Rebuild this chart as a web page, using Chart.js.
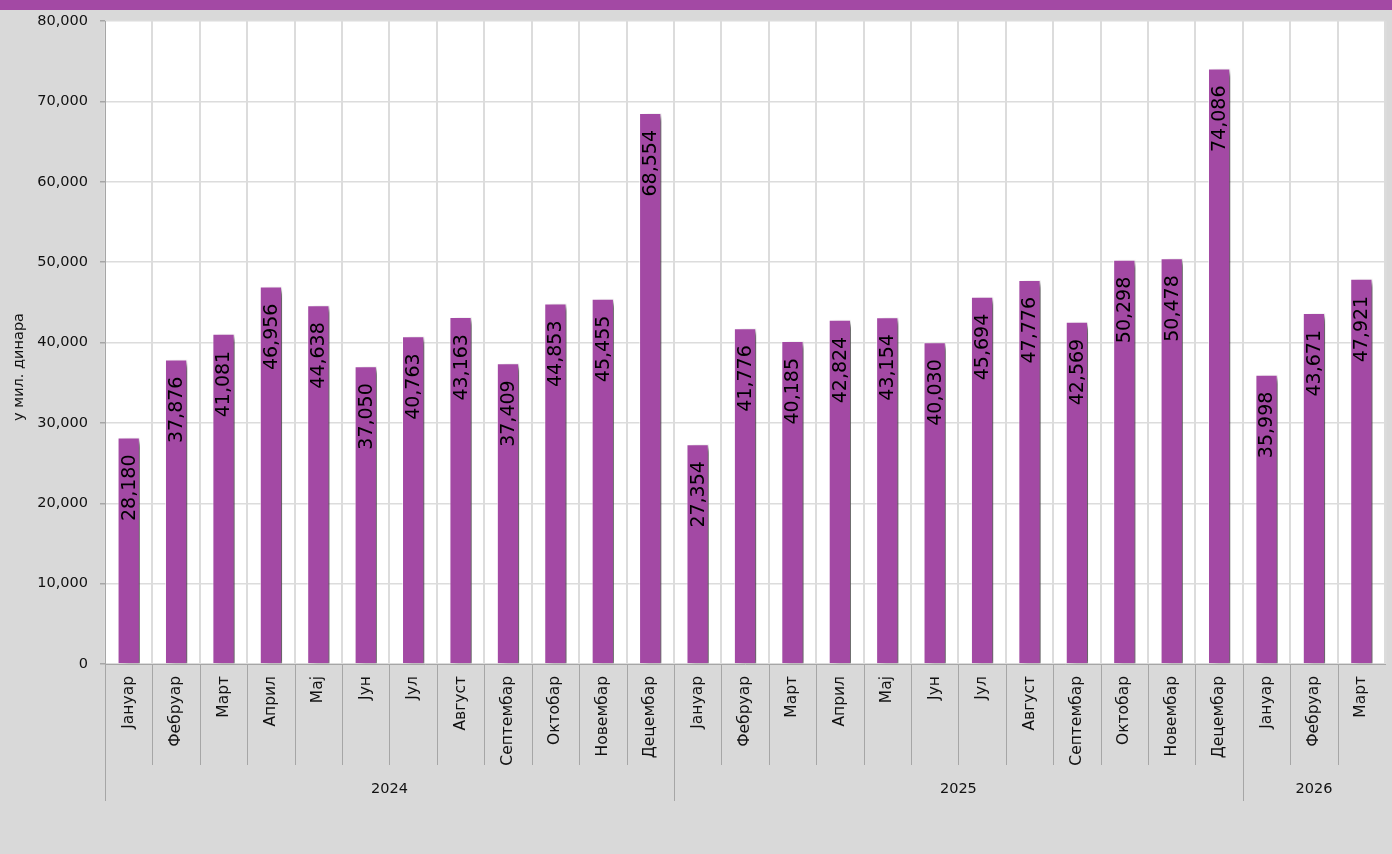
<!DOCTYPE html>
<html>
<head>
<meta charset="utf-8">
<title>Месечни износи</title>
<script src="https://cdn.jsdelivr.net/npm/chart.js@4.4.1/dist/chart.umd.min.js"></script>
<style>
  html, body { margin: 0; padding: 0; background: #d9d9d9; }
  canvas { display: block; }
</style>
</head>
<body>
<canvas id="chart" width="1392" height="854"></canvas>
<script>
// Month names shown under each bar
const months = ['Јануар', 'Фебруар', 'Март', 'Април', 'Мај', 'Јун', 'Јул', 'Август', 'Септембар', 'Октобар', 'Новембар', 'Децембар'];

// Monthly values, in millions of dinars
const values2024 = [28180, 37876, 41081, 46956, 44638, 37050, 40763, 43163, 37409, 44853, 45455, 68554];
const values2025 = [27354, 41776, 40185, 42824, 43154, 40030, 45694, 47776, 42569, 50298, 50478, 74086];
const values2026 = [35998, 43671, 47921];

// Year groups on the second axis row
const years = ['2024', '2025', '2026'];
const yearSeries = [values2024, values2025, values2026];

const yTicks = [0, 10000, 20000, 30000, 40000, 50000, 60000, 70000, 80000];
const yTitle = 'у мил. динара';

const categories = yearSeries.flatMap(s => months.slice(0, s.length));
const values = yearSeries.flat();

const PURPLE = '#a349a4';
const FONT = '"DejaVu Sans", sans-serif';
const fmt = v => v.toLocaleString('en-US');

// Page background, white plot area, the band along the top and the value-axis title
const backdrop = {
  id: 'backdrop',
  beforeDraw(chart) {
    const { ctx, chartArea: a } = chart;
    ctx.save();
    ctx.fillStyle = '#d9d9d9';
    ctx.fillRect(0, 0, chart.width, chart.height);
    ctx.fillStyle = '#ffffff';
    ctx.fillRect(a.left, a.top, a.right - a.left + 1, a.bottom - a.top);
    ctx.fillStyle = PURPLE;
    ctx.fillRect(0, 0, chart.width, 10);

    ctx.translate(19, 367);
    ctx.rotate(-Math.PI / 2);
    ctx.fillStyle = '#111111';
    ctx.font = '14.5px ' + FONT;
    ctx.textAlign = 'center';
    ctx.textBaseline = 'middle';
    ctx.fillText(yTitle, 0, 0);
    ctx.restore();
  }
};

// Drop shadow behind the bars
const barShadow = {
  id: 'barShadow',
  beforeDatasetsDraw(chart) {
    const ctx = chart.ctx;
    ctx.save();
    ctx.shadowColor = 'rgba(0,0,0,0.6)';
    ctx.shadowBlur = 5;
    ctx.shadowOffsetX = 6;
    ctx.shadowOffsetY = 3;
  },
  afterDatasetsDraw(chart) {
    chart.ctx.restore();
  }
};

// Value labels written upward just inside the top of each bar
const barValues = {
  id: 'barValues',
  afterDatasetsDraw(chart) {
    const { ctx } = chart;
    const meta = chart.getDatasetMeta(0);
    const data = chart.data.datasets[0].data;
    ctx.save();
    ctx.fillStyle = '#000000';
    ctx.font = '19px ' + FONT;
    ctx.textAlign = 'right';
    ctx.textBaseline = 'middle';
    meta.data.forEach((bar, i) => {
      ctx.save();
      ctx.translate(bar.x + 1, bar.y + 17);
      ctx.rotate(-Math.PI / 2);
      ctx.fillText(fmt(data[i]), 0, 0);
      ctx.restore();
    });
    ctx.restore();
  }
};

// Second axis row: separators between months and years, plus year labels
const yearAxis = {
  id: 'yearAxis',
  afterDraw(chart) {
    const { ctx } = chart;
    const x = chart.scales.x;
    const base = chart.chartArea.bottom;
    const half = (x.getPixelForValue(1) - x.getPixelForValue(0)) / 2;
    const edge = i => Math.round(x.getPixelForValue(i) - half) + 0.5;
    const starts = [];
    let n = 0;
    yearSeries.forEach(s => { starts.push(n); n += s.length; });
    ctx.save();
    ctx.strokeStyle = '#a6a6a6';
    ctx.lineWidth = 1;
    for (let i = 0; i < n; i++) {
      const isYear = starts.includes(i);
      ctx.beginPath();
      ctx.moveTo(edge(i), base);
      ctx.lineTo(edge(i), base + (isYear ? 137 : 101));
      ctx.stroke();
    }
    ctx.fillStyle = '#111111';
    ctx.font = '14.5px ' + FONT;
    ctx.textAlign = 'center';
    ctx.textBaseline = 'middle';
    years.forEach((y, k) => {
      const a = starts[k];
      const b = a + yearSeries[k].length;
      const cx = (x.getPixelForValue(a) + x.getPixelForValue(b - 1)) / 2;
      ctx.fillText(y, cx, base + 125);
    });
    ctx.restore();
  }
};

new Chart(document.getElementById('chart'), {
  type: 'bar',
  data: {
    labels: categories,
    datasets: [{
      data: values,
      backgroundColor: PURPLE,
      borderColor: 'rgba(255,255,255,0.6)',
      borderWidth: 1,
      categoryPercentage: 1,
      barPercentage: 0.47
    }]
  },
  options: {
    responsive: false,
    animation: false,
    devicePixelRatio: 1,
    layout: { padding: { top: 21, right: 2, left: 0, bottom: 0 } },
    plugins: {
      legend: { display: false },
      tooltip: { enabled: false }
    },
    scales: {
      x: {
        type: 'category',
        offset: true,
        grid: {
          offset: true,
          color: '#dcdcdc',
          lineWidth: 2,
          drawTicks: false
        },
        border: { display: true, color: '#a6a6a6', width: 1 },
        ticks: {
          autoSkip: false,
          minRotation: 90,
          maxRotation: 90,
          padding: 12,
          color: '#111111',
          font: { family: FONT, size: 15.5 }
        },
        afterFit(scale) { scale.height = 190; }
      },
      y: {
        min: 0,
        max: 80000,
        afterBuildTicks(scale) { scale.ticks = yTicks.map(v => ({ value: v })); },
        grid: {
          color: '#dcdcdc',
          lineWidth: 1.5,
          tickLength: 5,
          tickColor: '#a6a6a6'
        },
        border: { display: true, color: '#a6a6a6', width: 1 },
        ticks: {
          padding: 12,
          color: '#111111',
          font: { family: FONT, size: 14.5 },
          callback: v => fmt(v)
        },
        afterFit(scale) { scale.width = 105; }
      }
    }
  },
  plugins: [backdrop, barShadow, barValues, yearAxis]
});
</script>
</body>
</html>
